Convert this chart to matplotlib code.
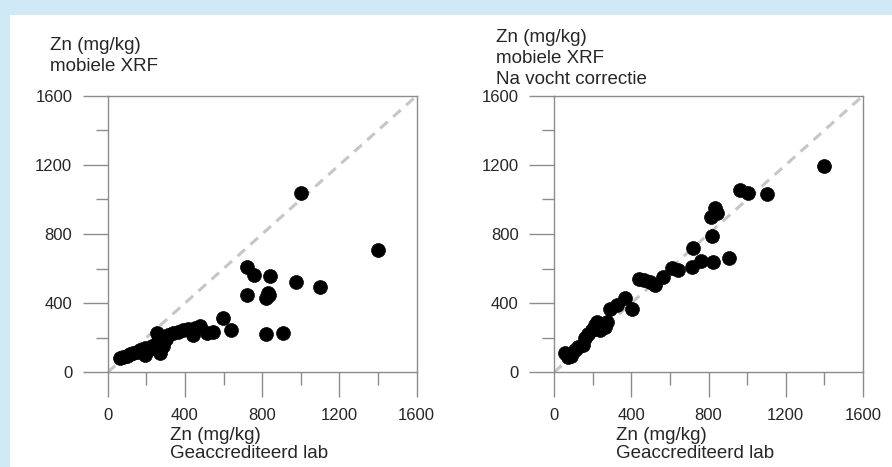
import matplotlib
matplotlib.use("Agg")
import matplotlib.pyplot as plt
from matplotlib.patches import Rectangle
from matplotlib.ticker import MultipleLocator

plt.rcParams['font.family'] = ['Liberation Sans', 'DejaVu Sans']

# Left panel: mobiele XRF vs lab
lab_left = [65, 80, 100, 117, 133, 150, 167, 193, 193, 210, 228, 254, 262, 271, 288,
            300, 314, 340, 366, 391, 417, 443, 452, 478, 512, 547, 599, 638,
            721, 760, 841, 974, 1099, 721, 820, 835, 830, 820, 910, 1000, 1400]
xrf_left = [80, 90, 95, 105, 112, 120, 130, 140, 100, 130, 150, 225, 180, 110, 150,
            190, 216, 225, 235, 245, 250, 216, 255, 265, 225, 235, 312, 245,
            612, 564, 558, 522, 491, 445, 430, 445, 460, 222, 228, 1040, 705]

# Right panel: after moisture correction
lab_right = [57, 74, 88, 109, 126, 152, 161, 178, 195, 212, 221, 238, 264, 273, 290,
             325, 368, 402, 440, 466, 497, 523, 566, 609, 644, 713, 718, 760, 822,
             908, 820, 811, 842, 834, 963, 1006, 1101, 1398]
xrf_right = [110, 88, 95, 128, 148, 160, 197, 222, 245, 274, 293, 245, 260, 293, 364,
             389, 428, 364, 538, 534, 524, 505, 553, 602, 592, 611, 718, 641, 636,
             660, 786, 896, 923, 948, 1057, 1038, 1030, 1191]

ylabels_left = ["Zn (mg/kg)", "mobiele XRF"]
ylabels_right = ["Zn (mg/kg)", "mobiele XRF", "Na vocht correctie"]
xlabels = ["Zn (mg/kg)", "Geaccrediteerd lab"]
major_ticks = [0, 400, 800, 1200, 1600]

W, H = 892, 467
fig = plt.figure(figsize=(W / 100, H / 100), dpi=100)
fig.patch.set_facecolor('#cfe9f7')
fig.add_artist(Rectangle((10 / W, 0), 1 - 10 / W, 1 - 15 / H, transform=fig.transFigure,
                         facecolor='white', edgecolor='none', zorder=0))

spine_c = '#8c8c8c'
text_c = '#262626'

def make_panel(x0px, xs, ys, ylines, ytop_px):
    ax = fig.add_axes([x0px / W, 1 - 372.3 / H, 309 / W, (372.3 - 95.7) / H])
    ax.set_xlim(0, 1600)
    ax.set_ylim(0, 1600)
    ax.axline((0, 0), slope=1, color='#c6c6c6', lw=2.2, dashes=(3.3, 2.4), zorder=1)
    ax.scatter(xs, ys, s=100, c='black', edgecolors='black', linewidths=0.5, zorder=3,
               clip_on=False)
    for sp in ax.spines.values():
        sp.set_color(spine_c)
        sp.set_linewidth(1.0)
    ax.set_xticks(major_ticks)
    ax.set_yticks(major_ticks)
    ax.xaxis.set_minor_locator(MultipleLocator(200))
    ax.yaxis.set_minor_locator(MultipleLocator(200))
    ax.tick_params(which='major', length=18, width=1, color=spine_c, labelsize=12,
                   labelcolor=text_c, pad=7.5)
    ax.tick_params(which='minor', length=9, width=1, color=spine_c)
    ax.patch.set_alpha(0)
    for i, t in enumerate(ylines):
        fig.text((x0px - 58) / W, 1 - (ytop_px + 21.5 * i) / H, t, fontsize=13.5,
                 color=text_c, ha='left', va='center')
    for i, t in enumerate(xlabels):
        fig.text((x0px + 62) / W, 1 - (435 + 19 * i) / H, t, fontsize=13.5,
                 color=text_c, ha='left', va='center')
    return ax

make_panel(107.7, lab_left, xrf_left, ylabels_left, 45)
make_panel(554, lab_right, xrf_right, ylabels_right, 37)

fig.savefig('out.png', dpi=100, facecolor=fig.get_facecolor())
